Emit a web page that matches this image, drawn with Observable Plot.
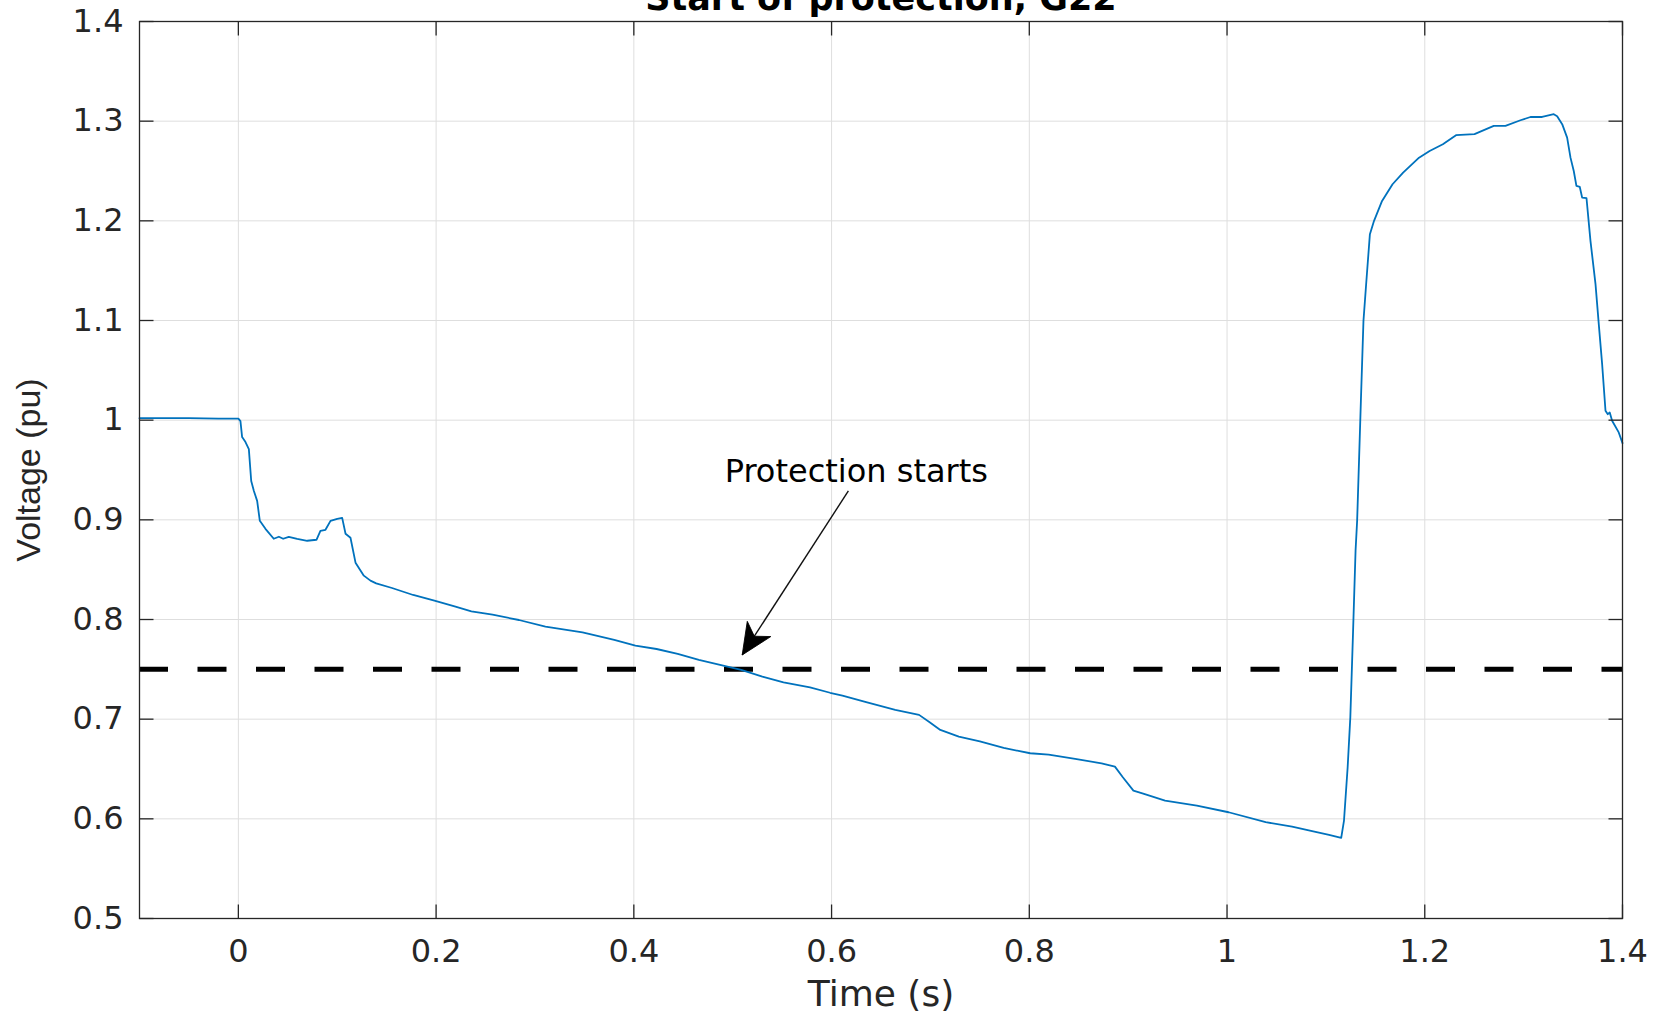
<!DOCTYPE html>
<html><head><meta charset="utf-8">
<script src="https://cdn.jsdelivr.net/npm/d3@7"></script>
<script src="https://cdn.jsdelivr.net/npm/@observablehq/plot@0.6"></script>
<style>
html,body{margin:0;padding:0;background:#fff;}
#chart{width:1656px;height:1017px;overflow:hidden;}
</style></head><body><div id="chart"></div>
<script>
const titleText = "Start of protection, G22";
const xLabel = "Time (s)";
const yLabel = "Voltage (pu)";

const time = [-0.1,-0.05,-0.02,0,0.0021,0.0038,0.0072,0.0106,0.013,0.0157,0.019,0.0217,0.0274,0.0358,0.041,0.0453,0.051,0.0595,0.0696,0.079,0.083,0.0881,0.0932,0.1,0.105,0.1084,0.1134,0.1185,0.1269,0.1336,0.1394,0.1554,0.1768,0.1983,0.2196,0.2357,0.2571,0.2838,0.3106,0.3481,0.3802,0.4016,0.423,0.4444,0.4658,0.4872,0.5086,0.53,0.5514,0.5782,0.5985,0.611,0.635,0.6644,0.6885,0.6992,0.71,0.7287,0.75,0.7741,0.8009,0.8196,0.8464,0.8731,0.8866,0.8946,0.9053,0.916,0.9373,0.9695,1.0016,1.0391,1.0658,1.0872,1.1032,1.1155,1.1183,1.122,1.1247,1.1274,1.13,1.1316,1.1354,1.138,1.1407,1.1445,1.1487,1.1568,1.1674,1.1781,1.1942,1.2049,1.2183,1.2316,1.2503,1.2698,1.2816,1.2968,1.3069,1.3187,1.3305,1.3339,1.339,1.344,1.3474,1.3507,1.3534,1.3568,1.3592,1.3636,1.3676,1.3727,1.376,1.3794,1.3828,1.3851,1.3871,1.3895,1.3962,1.4];
const voltage = [1.002,1.002,1.0015,1.0015,0.999,0.983,0.978,0.971,0.939,0.929,0.919,0.899,0.891,0.881,0.883,0.881,0.883,0.881,0.879,0.880,0.889,0.890,0.899,0.901,0.902,0.886,0.882,0.857,0.844,0.839,0.8362,0.8316,0.8246,0.8189,0.8129,0.8082,0.8048,0.7995,0.7928,0.7871,0.7795,0.7738,0.7704,0.7654,0.7594,0.7544,0.7494,0.7427,0.737,0.732,0.7265,0.7236,0.717,0.7093,0.7043,0.6969,0.6892,0.6825,0.6778,0.6711,0.6658,0.6644,0.6601,0.6557,0.6524,0.6417,0.6283,0.625,0.6183,0.6133,0.6066,0.5966,0.5922,0.5875,0.5839,0.5809,0.5983,0.6517,0.7018,0.7855,0.869,0.8992,1.0194,1.0997,1.1364,1.1866,1.2,1.22,1.2367,1.2484,1.2634,1.2701,1.2768,1.2859,1.287,1.2952,1.2952,1.3009,1.3042,1.3042,1.307,1.305,1.297,1.2835,1.2634,1.25,1.235,1.234,1.2233,1.2227,1.1799,1.1365,1.0963,1.0562,1.0094,1.006,1.0077,0.9994,0.9877,0.977];

const xTicks = [0, 0.2, 0.4, 0.6, 0.8, 1, 1.2, 1.4];
const xTickLabels = ["0", "0.2", "0.4", "0.6", "0.8", "1", "1.2", "1.4"];
const yTicks = [0.5, 0.6, 0.7, 0.8, 0.9, 1, 1.1, 1.2, 1.3, 1.4];
const yTickLabels = ["0.5", "0.6", "0.7", "0.8", "0.9", "1", "1.1", "1.2", "1.3", "1.4"];
const xDomain = [-0.1, 1.4];
const yDomain = [0.5, 1.4];

const threshold = [0.75];
const annotationLabel = ["Protection starts"];
const annotationX = [0.625];
const annotationY = [0.948];
const arrowStart = [0.617, 0.929];
const arrowEnd = [0.5096, 0.7644];

const rows = time.map((t, i) => ({t, v: voltage[i]}));
const arrowRow = [{x1: arrowStart[0], y1: arrowStart[1], x2: arrowEnd[0], y2: arrowEnd[1]}];
const annRows = annotationLabel.map((s, i) => ({s, x: annotationX[i], y: annotationY[i]}));

const AX = "#262626";
// arrowhead symbol: tip at the origin, pointing up, notched back (MATLAB "vback2")
const HEAD_LEN = 31, HEAD_HALF = 14;
const headSymbol = {draw(ctx) {
  ctx.moveTo(0, 0);
  ctx.lineTo(HEAD_HALF, HEAD_LEN);
  ctx.lineTo(0, HEAD_LEN * 0.72);
  ctx.lineTo(-HEAD_HALF, HEAD_LEN);
  ctx.closePath();
}};

function tickMarks() {
  const base = {length: 14, anchor: "start", stroke: AX, strokeWidth: 1.3, strokeLinecap: "butt", r: 0};
  return [
    Plot.vector(xTicks, {...base, x: d => d, frameAnchor: "bottom", rotate: 0}),
    Plot.vector(xTicks, {...base, x: d => d, frameAnchor: "top", rotate: 180}),
    Plot.vector(yTicks, {...base, y: d => d, frameAnchor: "left", rotate: 90}),
    Plot.vector(yTicks, {...base, y: d => d, frameAnchor: "right", rotate: -90})
  ];
}

function build(angle) {
  return Plot.plot({
    width: 1656, height: 1017,
    marginTop: 21, marginRight: 34, marginBottom: 99, marginLeft: 139,
    x: {domain: xDomain},
    y: {domain: yDomain},
    style: {fontFamily: "DejaVu Sans", background: "white"},
    marks: [
      Plot.gridX(xTicks, {stroke: "#dedede", strokeOpacity: 1, strokeWidth: 1}),
      Plot.gridY(yTicks, {stroke: "#dedede", strokeOpacity: 1, strokeWidth: 1}),
      Plot.ruleY(threshold, {stroke: "#000", strokeWidth: 5, strokeDasharray: "29,29.5"}),
      Plot.line(rows, {x: "t", y: "v", stroke: "#0072BD", strokeWidth: 1.8}),
      Plot.link(arrowRow, {x1: "x1", y1: "y1", x2: "x2", y2: "y2", stroke: "#111", strokeWidth: 1.4}),
      Plot.dot(arrowRow, {x: "x2", y: "y2", r: 10, symbol: headSymbol, rotate: angle, fill: "#000", stroke: "#000", strokeWidth: 0.8}),
      Plot.text(annRows, {x: "x", y: "y", text: "s", fontSize: 32, fill: "#000", lineAnchor: "middle"}),
      Plot.frame({stroke: AX, strokeWidth: 1.3}),
      ...tickMarks(),
      Plot.axisX(xTicks, {tickSize: 0, tickPadding: 21, label: null, fontSize: 32, fill: AX,
        tickFormat: d => xTickLabels[xTicks.indexOf(d)]}),
      Plot.axisY(yTicks, {tickSize: 0, tickPadding: 16, label: null, fontSize: 32, fill: AX,
        tickFormat: d => yTickLabels[yTicks.indexOf(d)]}),
      Plot.text([titleText], {frameAnchor: "top", dy: -23, fontSize: 35, fontWeight: "bold", fill: "#000", textAnchor: "middle", lineAnchor: "middle"}),
      Plot.text([xLabel], {frameAnchor: "bottom", dy: 75.5, fontSize: 36, fill: AX, textAnchor: "middle", lineAnchor: "middle"}),
      Plot.text([yLabel], {frameAnchor: "left", dx: -110, rotate: -90, fontSize: 34, fontFamily: "Liberation Sans", fill: AX, textAnchor: "middle", lineAnchor: "middle"})
    ]
  });
}

// first pass to read the scales, then compute the arrowhead's screen angle
const probe = build(0);
const sx = probe.scale("x"), sy = probe.scale("y");
const dxs = sx.apply(arrowEnd[0]) - sx.apply(arrowStart[0]);
const dys = sy.apply(arrowEnd[1]) - sy.apply(arrowStart[1]);
const angle = Math.atan2(dxs, -dys) * 180 / Math.PI;
document.getElementById("chart").appendChild(build(angle));
</script></body></html>
